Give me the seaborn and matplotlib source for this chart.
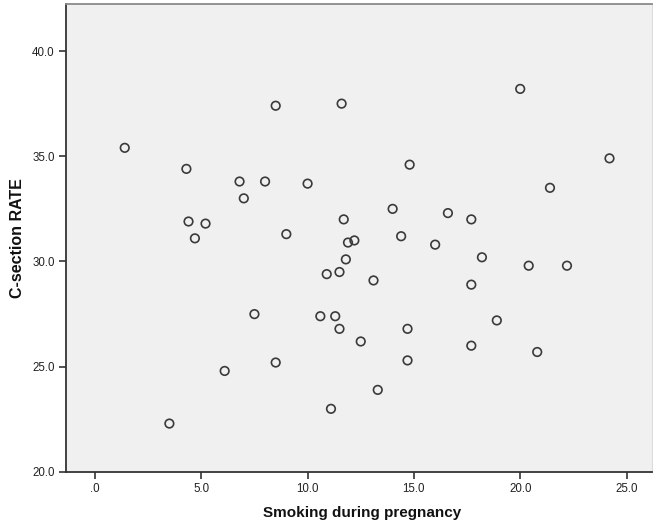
import matplotlib
matplotlib.use("Agg")
import matplotlib.pyplot as plt
import seaborn as sns
import pandas as pd

# Smoking during pregnancy (%) vs. C-section rate (%)
smoking = [1.4, 4.3, 4.4, 4.7, 5.2, 6.8, 7.0, 8.0, 8.5, 9.0, 10.0,
           11.6, 20.0, 14.8, 24.2, 21.4, 14.0, 11.7, 16.6, 17.7,
           11.9, 12.2, 14.4, 16.0, 11.8, 18.2, 20.4, 22.2, 11.5,
           10.9, 13.1, 17.7, 7.5, 10.6, 11.3, 11.5, 12.5, 14.7,
           14.7, 17.7, 18.9, 20.8, 6.1, 8.5, 3.5, 13.3, 11.1]
csection = [35.4, 34.4, 31.9, 31.1, 31.8, 33.8, 33.0, 33.8, 37.4, 31.3, 33.7,
            37.5, 38.2, 34.6, 34.9, 33.5, 32.5, 32.0, 32.3, 32.0,
            30.9, 31.0, 31.2, 30.8, 30.1, 30.2, 29.8, 29.8, 29.5,
            29.4, 29.1, 28.9, 27.5, 27.4, 27.4, 26.8, 26.2, 26.8,
            25.3, 26.0, 27.2, 25.7, 24.8, 25.2, 22.3, 23.9, 23.0]

x_ticks = [0, 5, 10, 15, 20, 25]
x_tick_labels = [".0", "5.0", "10.0", "15.0", "20.0", "25.0"]
y_ticks = [20, 25, 30, 35, 40]
y_tick_labels = ["20.0", "25.0", "30.0", "35.0", "40.0"]

df = pd.DataFrame({"Smoking during pregnancy": smoking,
                   "C-section RATE": csection})

sns.set_theme(style="white")
plt.rcParams["font.family"] = ["Liberation Sans", "DejaVu Sans"]

fig = plt.figure(figsize=(6.53, 5.29), dpi=100)
ax = fig.add_axes([0.101, 0.1078, 0.8975, 0.8837])
ax.set_facecolor("#f0f0f0")

sns.scatterplot(data=df, x="Smoking during pregnancy", y="C-section RATE",
                ax=ax, s=38, facecolor="none", edgecolor="#3a3a3a",
                linewidth=1.2, marker="o")

ax.set_xlim(-1.365, 26.2)
ax.set_ylim(20, 42.21)
ax.set_xticks(x_ticks)
ax.set_xticklabels(x_tick_labels)
ax.set_yticks(y_ticks)
ax.set_yticklabels(y_tick_labels)

ax.tick_params(axis="both", direction="out", length=5, width=1.2,
               color="#333333", labelsize=8.3, labelcolor="#222222", pad=3,
               bottom=True, left=True)

for side in ["left", "bottom"]:
    ax.spines[side].set_color("#333333")
    ax.spines[side].set_linewidth(1.3)
ax.spines["top"].set_color("#8a8a8a")
ax.spines["top"].set_linewidth(1.3)
ax.spines["right"].set_color("#dcdcdc")
ax.spines["right"].set_linewidth(0.8)

ax.set_xlabel("Smoking during pregnancy", fontsize=11, fontweight="bold",
              color="#111111")
ax.set_ylabel("C-section RATE", fontsize=11.5, fontweight="bold",
              color="#111111")
ax.xaxis.set_label_coords(0.505, -0.073)
ax.yaxis.set_label_coords(-0.070, 0.5)

fig.savefig("out.png", dpi=100, facecolor="white")
